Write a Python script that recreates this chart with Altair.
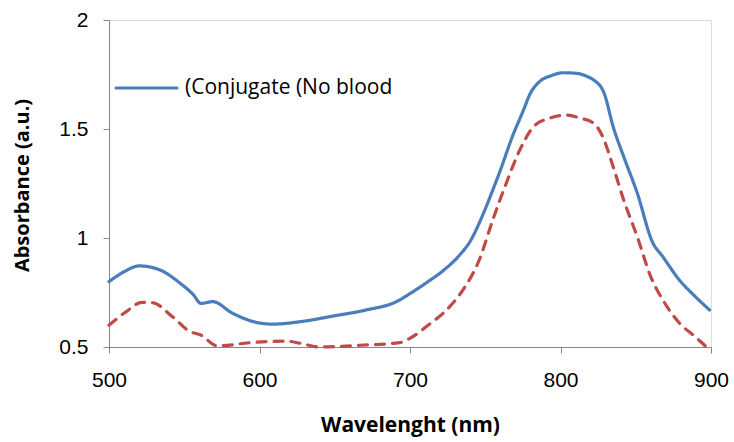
import altair as alt
import pandas as pd

# Conjugate (No blood) - blue solid
blue_wl = [500, 510, 520, 534, 547, 556, 561, 569, 582, 600, 609, 627, 649, 671, 691, 700,
           712, 722, 733, 740, 748, 755, 760, 768, 775, 780, 786, 794, 802, 811, 818, 822, 829,
           835, 842, 851, 861, 868, 879, 889, 899]
blue_abs = [0.80, 0.845, 0.872, 0.853, 0.794, 0.74, 0.70, 0.708, 0.655, 0.61, 0.605, 0.616,
            0.642, 0.67, 0.708, 0.745, 0.80, 0.85, 0.922, 0.985, 1.10, 1.22, 1.31, 1.465, 1.58,
            1.664, 1.717, 1.745, 1.758, 1.755, 1.74, 1.725, 1.664, 1.51, 1.373, 1.206, 0.983,
            0.914, 0.807, 0.735, 0.67]

# Second series - red dashed
red_wl = [500, 511, 522, 529, 542, 554, 561, 572, 594, 618, 627, 640, 667, 693, 700, 712,
          722, 735, 746, 755, 764, 773, 782, 793, 804, 813, 822, 828, 835, 842, 851, 860,
          868, 879, 889, 897]
red_abs = [0.60, 0.66, 0.705, 0.703, 0.64, 0.57, 0.555, 0.505, 0.52, 0.527, 0.517, 0.50,
           0.508, 0.52, 0.54, 0.60, 0.655, 0.76, 0.899, 1.083, 1.252, 1.404, 1.51, 1.55,
           1.564, 1.55, 1.527, 1.465, 1.327, 1.174, 1.006, 0.822, 0.716, 0.61, 0.55, 0.5]

x_ticks = [500, 600, 700, 800, 900]
y_ticks = [0.5, 1, 1.5, 2]
legend_label = "(Conjugate (No blood"
series_names = ["Conjugate", "Blood"]
colors = ["#4A7EBB", "#BE4B48"]

df = pd.concat([
    pd.DataFrame({"wl": blue_wl, "abs": blue_abs, "series": series_names[0]}),
    pd.DataFrame({"wl": red_wl, "abs": red_abs, "series": series_names[1]}),
])

axis_common = dict(domainColor="#868686", tickColor="#868686", tickSize=6, grid=False,
                   labelFont="Liberation Sans", labelFontSize=21, labelColor="#000000",
                   labelFlush=False,
                   titleFont="Open Sans", titleFontWeight="bold",
                   titleColor="#000000", titleBaseline="middle")

x = alt.X("wl:Q", scale=alt.Scale(domain=[500, 900], nice=False, zero=False),
          axis=alt.Axis(title="Wavelenght (nm)", values=x_ticks, labelPadding=16,
                        titleX=301, titleY=78, titleAlign="center", titleFontSize=21,
                        **axis_common))
y = alt.Y("abs:Q", scale=alt.Scale(domain=[0.5, 2], nice=False, zero=False),
          axis=alt.Axis(title="Absorbance (a.u.)", values=y_ticks, labelPadding=15,
                        format="~g", titleX=-87, titleY=165, titleAngle=-90,
                        titleAlign="center", titleFontSize=20, **axis_common))

lines = alt.Chart(df).mark_line(strokeWidth=3.2, interpolate="monotone", strokeCap="round").encode(
    x=x, y=y,
    color=alt.Color("series:N", scale=alt.Scale(domain=series_names, range=colors), legend=None),
    strokeDash=alt.StrokeDash("series:N", scale=alt.Scale(domain=series_names, range=[[1, 0], [9, 8]]),
                              legend=None),
)

legend_line = alt.Chart(pd.DataFrame({"a": [0]})).mark_rule(
    color=colors[0], strokeWidth=3.2, strokeCap="round").encode(
    x=alt.value(7), x2=alt.value(68), y=alt.value(68))
legend_text = alt.Chart(pd.DataFrame({"t": [legend_label]})).mark_text(
    align="left", baseline="middle", font="Open Sans", fontSize=21, color="#000000").encode(
    x=alt.value(76), y=alt.value(68), text="t:N")

chart = alt.layer(lines, legend_line, legend_text).properties(
    width=602, height=327,
    autosize=alt.AutoSizeParams(type="none"),
    padding={"left": 109, "top": 20, "right": 23, "bottom": 95},
).configure_view(stroke=None).configure(background="white")

chart.save("out.html", embed_options={"renderer": "svg", "actions": False})
